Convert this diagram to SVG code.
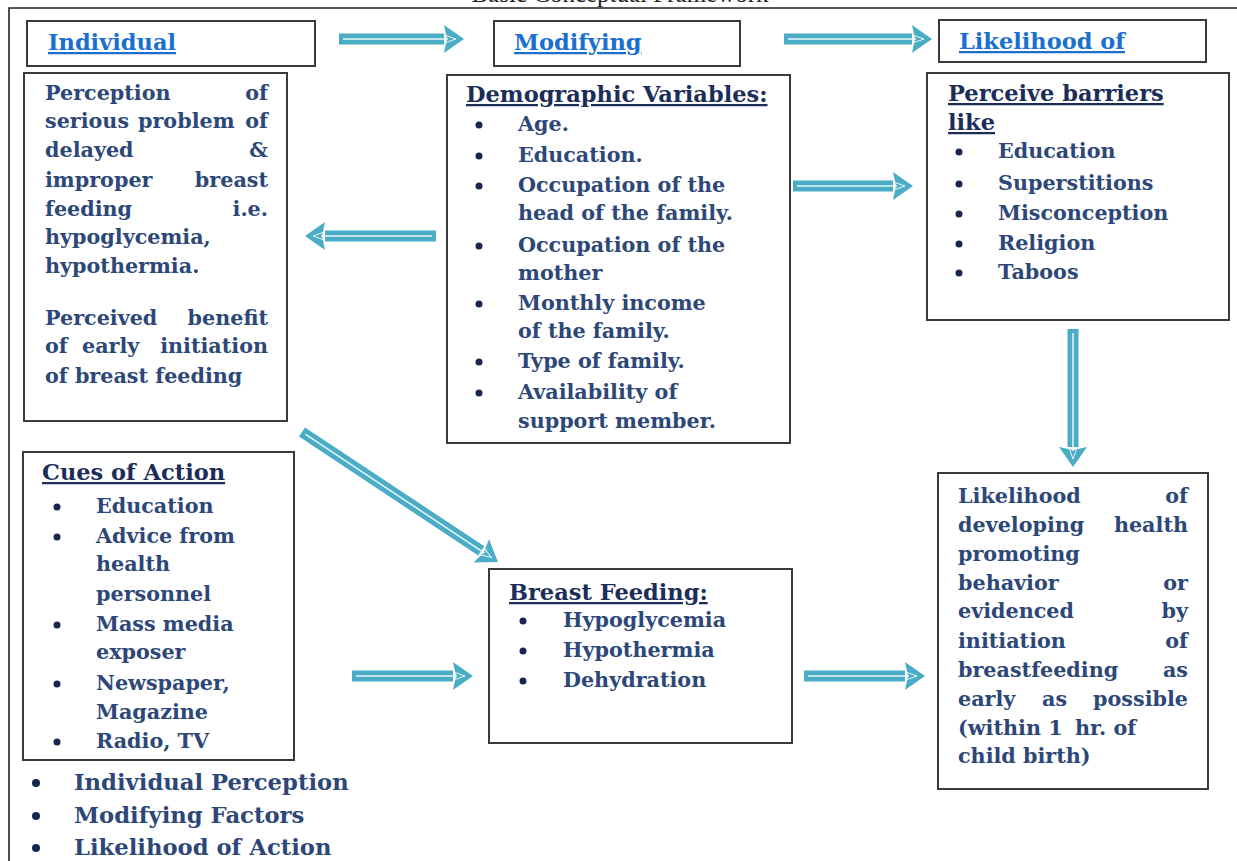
<svg xmlns="http://www.w3.org/2000/svg" width="1237" height="861" viewBox="0 0 1237 861">
<defs>
<style>
.bg{fill:#ffffff}
.frame{stroke:#222;stroke-width:1.6;fill:none}
.box{fill:#fff;stroke:#3a3a3a;stroke-width:2}
.t{font-family:"DejaVu Serif",serif;font-weight:bold;font-size:20.7px;fill:#2c4778}
.big{font-size:22.7px}
.hd{fill:#1c2d59;text-decoration:underline;font-size:22.5px}
.hb{fill:#1a6fcf;text-decoration:underline;font-size:22.5px}
.end{text-anchor:end}
.bul{fill:#16264d}
.sh{stroke:#4aacc5;stroke-width:11;fill:none}
.co{stroke:#e8f6fa;stroke-width:1.5;fill:none}
.ttl{font-family:"Liberation Serif",serif;font-size:25px;fill:#222;text-anchor:middle}
</style>
<marker id="ah" markerUnits="userSpaceOnUse" markerWidth="22" markerHeight="30" viewBox="0 -15 22 30" refX="0" refY="0" orient="auto">
<path d="M0,-14 L20,0 L0,14 L3,0 Z" fill="#4aacc5"/>
<path d="M2,-3.5 L12,0 L2,3.5" fill="none" stroke="#e8f6fa" stroke-width="1"/>
</marker>
</defs>
<rect class="bg" x="0" y="0" width="1237" height="861"/>
<text class="ttl" x="620" y="2">Basic Conceptual Framework</text>
<path class="frame" d="M1237,8 L9,8 L9,861"/>

<g id="n-individual">
<rect class="box" x="27" y="21" width="288" height="45"/>
<text class="t hb" x="48" y="50">Individual</text>
</g>
<g id="n-modifying">
<rect class="box" x="494" y="21" width="246" height="45"/>
<text class="t hb" x="514" y="50">Modifying</text>
</g>
<g id="n-likelihood-of">
<rect class="box" x="939" y="20" width="267" height="42"/>
<text class="t hb" x="959" y="49">Likelihood of</text>
</g>

<g id="n-perception">
<rect class="box" x="24" y="73" width="263" height="348"/>
<text class="t" x="45" y="100">Perception</text><text class="t end" x="268" y="100">of</text>
<text class="t" x="45" y="128">serious</text><text class="t" x="138" y="128">problem</text><text class="t end" x="268" y="128">of</text>
<text class="t" x="45" y="157">delayed</text><text class="t end" x="268" y="157">&amp;</text>
<text class="t" x="45" y="187">improper</text><text class="t end" x="268" y="187">breast</text>
<text class="t" x="45" y="216">feeding</text><text class="t end" x="268" y="216">i.e.</text>
<text class="t" x="45" y="244">hypoglycemia,</text>
<text class="t" x="45" y="273">hypothermia.</text>
<text class="t" x="45" y="325">Perceived</text><text class="t end" x="268" y="325">benefit</text>
<text class="t" x="45" y="353">of</text><text class="t" x="82" y="353">early</text><text class="t end" x="268" y="353">initiation</text>
<text class="t" x="45" y="383">of breast feeding</text>
</g>

<g id="n-demographic">
<rect class="box" x="447" y="75" width="343" height="368"/>
<text class="t hd" x="466" y="102">Demographic Variables:</text>
<circle class="bul" cx="479" cy="125" r="3.5"/><text class="t" x="518" y="131">Age.</text>
<circle class="bul" cx="479" cy="156" r="3.5"/><text class="t" x="518" y="162">Education.</text>
<circle class="bul" cx="479" cy="186" r="3.5"/><text class="t" x="518" y="192">Occupation of the</text>
<text class="t" x="518" y="220">head of the family.</text>
<circle class="bul" cx="479" cy="246" r="3.5"/><text class="t" x="518" y="252">Occupation of the</text>
<text class="t" x="518" y="280">mother</text>
<circle class="bul" cx="479" cy="304" r="3.5"/><text class="t" x="518" y="310">Monthly income</text>
<text class="t" x="518" y="338">of the family.</text>
<circle class="bul" cx="479" cy="362" r="3.5"/><text class="t" x="518" y="368">Type of family.</text>
<circle class="bul" cx="479" cy="393" r="3.5"/><text class="t" x="518" y="399">Availability of</text>
<text class="t" x="518" y="428">support member.</text>
</g>

<g id="n-barriers">
<rect class="box" x="927" y="73" width="302" height="247"/>
<text class="t hd" x="948" y="101">Perceive barriers</text>
<text class="t hd" x="948" y="130">like</text>
<circle class="bul" cx="959" cy="152" r="3.5"/><text class="t" x="998" y="158">Education</text>
<circle class="bul" cx="959" cy="184" r="3.5"/><text class="t" x="998" y="190">Superstitions</text>
<circle class="bul" cx="959" cy="214" r="3.5"/><text class="t" x="998" y="220">Misconception</text>
<circle class="bul" cx="959" cy="244" r="3.5"/><text class="t" x="998" y="250">Religion</text>
<circle class="bul" cx="959" cy="273" r="3.5"/><text class="t" x="998" y="279">Taboos</text>
</g>

<g id="n-cues">
<rect class="box" x="23" y="452" width="271" height="308"/>
<text class="t hd" x="42" y="480">Cues of Action</text>
<circle class="bul" cx="57" cy="507" r="3.5"/><text class="t" x="96" y="513">Education</text>
<circle class="bul" cx="57" cy="537" r="3.5"/><text class="t" x="96" y="543">Advice from</text>
<text class="t" x="96" y="571">health</text>
<text class="t" x="96" y="601">personnel</text>
<circle class="bul" cx="57" cy="625" r="3.5"/><text class="t" x="96" y="631">Mass media</text>
<text class="t" x="96" y="659">exposer</text>
<circle class="bul" cx="57" cy="684" r="3.5"/><text class="t" x="96" y="690">Newspaper,</text>
<text class="t" x="96" y="719">Magazine</text>
<circle class="bul" cx="57" cy="742" r="3.5"/><text class="t" x="96" y="748">Radio, TV</text>
</g>

<g id="n-legend">
<circle class="bul" cx="36" cy="783" r="4"/><text class="t big" x="74" y="790">Individual Perception</text>
<circle class="bul" cx="36" cy="816" r="4"/><text class="t big" x="74" y="823">Modifying Factors</text>
<circle class="bul" cx="36" cy="848" r="4"/><text class="t big" x="74" y="855">Likelihood of Action</text>
</g>

<g id="n-breastfeeding">
<rect class="box" x="489" y="569" width="303" height="174"/>
<text class="t hd" x="509" y="600">Breast Feeding:</text>
<circle class="bul" cx="523" cy="621" r="3.5"/><text class="t" x="563" y="627">Hypoglycemia</text>
<circle class="bul" cx="523" cy="651" r="3.5"/><text class="t" x="563" y="657">Hypothermia</text>
<circle class="bul" cx="523" cy="681" r="3.5"/><text class="t" x="563" y="687">Dehydration</text>
</g>

<g id="n-outcome">
<rect class="box" x="938" y="473" width="270" height="316"/>
<text class="t" x="958" y="503">Likelihood</text><text class="t end" x="1188" y="503">of</text>
<text class="t" x="958" y="532">developing</text><text class="t end" x="1188" y="532">health</text>
<text class="t" x="958" y="561">promoting</text>
<text class="t" x="958" y="590">behavior</text><text class="t end" x="1188" y="590">or</text>
<text class="t" x="958" y="618">evidenced</text><text class="t end" x="1188" y="618">by</text>
<text class="t" x="958" y="648">initiation</text><text class="t end" x="1188" y="648">of</text>
<text class="t" x="958" y="677">breastfeeding</text><text class="t end" x="1188" y="677">as</text>
<text class="t" x="958" y="706">early</text><text class="t" x="1042" y="706">as</text><text class="t end" x="1188" y="706">possible</text>
<text class="t" x="958" y="735">(within 1</text><text class="t" x="1075" y="735">hr. of</text>
<text class="t" x="958" y="763">child birth)</text>
</g>

<g id="connectors">
<line class="sh" x1="339" y1="39" x2="444" y2="39" marker-end="url(#ah)"/>
<line class="co" x1="343" y1="39" x2="448" y2="39"/>
<line class="sh" x1="784" y1="39" x2="912" y2="39" marker-end="url(#ah)"/>
<line class="co" x1="788" y1="39" x2="916" y2="39"/>
<line class="sh" x1="436" y1="236" x2="325" y2="236" marker-end="url(#ah)"/>
<line class="co" x1="432" y1="236" x2="321" y2="236"/>
<line class="sh" x1="793" y1="186" x2="893" y2="186" marker-end="url(#ah)"/>
<line class="co" x1="797" y1="186" x2="897" y2="186"/>
<line class="sh" x1="1073" y1="329" x2="1073" y2="447" marker-end="url(#ah)"/>
<line class="co" x1="1073" y1="333" x2="1073" y2="451"/>
<line class="sh" x1="302" y1="432" x2="481.3" y2="550.9" marker-end="url(#ah)"/>
<line class="co" x1="305.3" y1="434.2" x2="484.6" y2="553.1"/>
<line class="sh" x1="352" y1="676" x2="453" y2="676" marker-end="url(#ah)"/>
<line class="co" x1="356" y1="676" x2="457" y2="676"/>
<line class="sh" x1="804" y1="676" x2="905" y2="676" marker-end="url(#ah)"/>
<line class="co" x1="808" y1="676" x2="909" y2="676"/>
</g>
</svg>
